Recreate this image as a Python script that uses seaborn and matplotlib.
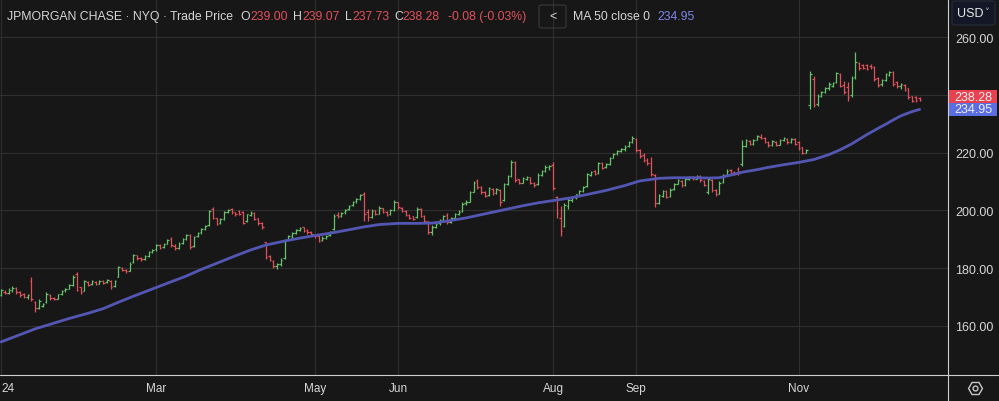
import matplotlib
matplotlib.use("Agg")
import matplotlib.pyplot as plt
import matplotlib.transforms as mtransforms
from matplotlib.lines import Line2D
from matplotlib.patches import Rectangle, FancyBboxPatch
import numpy as np
import pandas as pd
import seaborn as sns

# --- daily bars, 2 Jan 2024 .. mid Dec 2024 (trading-day index) ---
opens = [
    170.6, 171.9, 171.4, 172.4, 173.0, 171.8, 170.9, 170.0, 175.6, 168.4, 166.2, 167.0, 168.3, 170.8, 169.8, 169.4, 171.0, 172.3, 172.9, 174.2, 178.0,
    173.4, 172.2, 175.2, 174.4, 175.3, 174.7, 175.5, 175.1, 175.5, 173.8, 177.0, 180.2, 179.5, 179.2, 182.0, 184.4, 183.6, 183.2, 184.3, 185.6,
    186.5, 188.0, 187.2, 188.4, 190.2, 187.8, 187.0, 188.6, 190.0, 191.4, 187.6, 191.0, 192.4, 193.6, 194.8, 200.6, 197.2, 195.6, 197.0, 199.4,
    200.4, 199.3, 199.7, 199.5, 196.2, 198.5, 199.0, 197.2, 195.6, 189.0, 184.2, 182.6, 180.6, 181.3, 183.4, 189.8, 191.0, 192.3, 193.3, 194.1, 193.2, 192.6,
    191.6, 191.2, 189.6, 190.5, 191.4, 193.4, 198.4, 198.0, 199.3, 200.4, 201.7, 203.1, 204.0, 205.6, 199.4, 197.8, 200.0, 198.9, 200.7, 199.6, 198.6, 200.3,
    202.8, 201.0, 199.9, 198.5, 198.0, 197.6, 200.4, 198.0, 196.2, 192.6, 194.3, 195.5, 196.7, 198.3, 196.1, 197.3, 198.7, 199.8, 202.4,
    203.0, 206.5, 210.0, 208.2, 206.4, 205.3, 207.5, 206.0, 207.0, 203.6, 209.2, 212.0, 216.6, 210.8, 209.6, 210.8, 211.4, 209.5, 209.0, 212.4, 213.7, 215.0,
    215.8, 204.8, 197.4, 194.6, 201.6, 203.5, 204.5, 205.4, 206.7, 208.4, 212.4, 213.5, 212.8, 216.4, 214.9, 216.0, 218.3, 219.7, 220.5, 221.3, 222.2, 223.7,
    224.6, 220.9, 219.2, 217.6, 216.4, 212.2, 202.6, 205.0, 206.6, 205.0, 207.3, 209.3, 210.3, 208.8, 210.9, 211.5, 211.0, 211.8, 210.3, 206.2,
    210.4, 207.2, 205.8, 209.8, 212.3, 213.9, 213.2, 214.4, 216.0, 222.3, 224.0, 223.1, 224.5, 225.5, 225.0, 223.7, 222.6, 223.8, 222.8, 224.3, 224.8, 223.6, 224.6,
    223.6, 221.8, 220.0, 236.6, 245.6, 236.8, 239.6, 240.8, 242.3, 243.0, 244.4, 247.1, 243.4, 242.6, 239.8, 246.0, 251.0, 250.2, 250.4, 250.1,
    249.6, 245.8, 243.6, 245.0, 246.8, 247.9, 244.4, 242.9, 243.4, 242.2, 239.6, 239.3, 239.00,
]
highs = [
    172.8, 172.4, 173.0, 173.7, 173.4, 172.0, 171.3, 171.2, 177.0, 168.8, 169.4, 167.8, 171.6, 171.0, 170.1, 171.2, 172.6, 173.1, 174.6, 177.6, 178.7,
    173.6, 175.9, 175.6, 175.8, 175.5, 176.0, 175.9, 176.2, 175.8, 175.9, 180.9, 180.5, 179.8, 182.0, 185.0, 184.6, 184.0, 184.5, 186.0, 186.8,
    188.3, 188.2, 188.6, 190.0, 190.8, 188.2, 188.9, 190.4, 191.8, 191.8, 191.2, 192.6, 193.8, 194.9, 200.2, 201.3, 197.4, 197.3, 199.8, 200.6,
    200.8, 199.6, 200.1, 199.9, 198.9, 199.8, 199.3, 197.5, 195.9, 189.2, 184.4, 183.0, 181.9, 183.4, 190.2, 191.6, 192.6, 193.6, 194.3, 194.3, 193.5, 192.9,
    192.0, 191.5, 191.0, 191.6, 193.0, 198.8, 199.6, 199.5, 200.6, 202.0, 203.3, 204.2, 205.8, 206.4, 200.5, 200.4, 200.3, 201.4, 200.9, 199.8, 200.6, 203.5,
    203.0, 201.3, 200.1, 198.8, 198.2, 201.2, 200.7, 198.3, 196.4, 194.8, 195.8, 197.0, 198.4, 199.2, 197.6, 199.0, 200.0, 202.8, 203.6,
    206.8, 210.2, 210.9, 208.4, 206.6, 208.2, 207.8, 207.9, 207.4, 209.4, 212.2, 217.6, 217.1, 211.0, 211.6, 211.9, 211.7, 209.8, 212.8, 214.1, 215.6, 215.8,
    216.7, 205.0, 201.5, 202.4, 204.2, 205.0, 205.8, 207.0, 208.4, 213.0, 213.8, 213.9, 216.8, 216.9, 216.3, 218.6, 220.0, 220.8, 221.6, 222.5, 224.0, 225.7,
    224.9, 221.4, 220.0, 218.2, 218.6, 212.6, 205.6, 207.2, 207.0, 207.6, 209.6, 210.9, 210.6, 211.2, 212.0, 211.9, 212.3, 212.1, 210.6, 211.5,
    210.7, 207.5, 210.0, 212.6, 214.4, 214.3, 213.6, 215.0, 224.2, 224.7, 224.4, 224.8, 226.0, 226.4, 225.3, 224.0, 224.3, 224.1, 224.6, 225.3, 225.1, 225.2, 224.9,
    224.0, 222.0, 221.2, 248.2, 246.4, 240.2, 241.4, 242.6, 244.3, 244.6, 247.9, 247.4, 244.9, 244.4, 246.5, 254.7, 251.5, 250.7, 250.8, 250.5,
    249.8, 246.1, 245.6, 247.6, 248.2, 248.2, 244.9, 244.0, 243.6, 242.5, 239.7, 239.5, 239.07,
]
lows = [
    170.3, 170.9, 171.0, 171.6, 171.2, 170.2, 169.8, 169.5, 168.6, 165.0, 165.9, 166.4, 168.1, 169.1, 169.0, 169.2, 170.8, 171.9, 172.7, 174.0, 172.0,
    171.2, 172.0, 173.9, 174.2, 174.1, 174.5, 174.5, 174.9, 172.8, 173.6, 176.8, 178.9, 178.5, 178.9, 181.8, 183.0, 182.6, 182.9, 184.0, 185.2,
    186.1, 186.6, 186.9, 188.2, 187.3, 186.4, 186.8, 188.4, 189.8, 186.6, 187.4, 190.8, 192.0, 193.3, 194.6, 197.0, 194.8, 195.2, 196.8, 199.1,
    198.9, 198.2, 198.3, 195.3, 196.0, 198.2, 196.6, 195.0, 193.6, 183.2, 182.4, 180.2, 179.8, 180.9, 183.2, 189.6, 190.2, 192.0, 192.9, 192.6, 191.9, 191.3,
    190.6, 189.0, 189.3, 190.1, 191.1, 193.2, 197.5, 197.8, 198.9, 200.1, 201.4, 202.7, 203.6, 196.2, 196.5, 197.4, 198.4, 198.6, 199.1, 198.0, 198.3, 199.8,
    200.6, 199.4, 198.0, 197.1, 196.6, 197.4, 197.6, 195.8, 191.7, 191.5, 193.9, 195.1, 196.4, 195.4, 195.8, 197.0, 198.3, 199.5, 201.8,
    202.8, 206.2, 207.4, 205.8, 204.6, 205.0, 205.4, 205.7, 201.5, 203.3, 208.8, 211.6, 209.8, 209.0, 209.4, 210.4, 209.2, 208.2, 208.8, 212.0, 213.4, 214.0,
    207.0, 197.2, 191.1, 194.3, 200.4, 202.9, 204.0, 204.9, 206.3, 208.2, 212.0, 212.2, 212.5, 214.3, 214.5, 215.7, 218.0, 219.1, 220.1, 220.6, 221.9, 223.4,
    220.2, 218.2, 216.8, 215.7, 211.8, 201.3, 202.2, 204.6, 204.2, 204.8, 207.0, 209.0, 208.2, 208.5, 210.5, 210.4, 210.7, 209.9, 208.4, 205.8,
    206.4, 205.0, 205.6, 209.5, 212.0, 212.6, 212.1, 212.4, 215.2, 222.0, 222.6, 222.8, 224.2, 224.6, 223.4, 222.0, 222.2, 222.2, 222.5, 223.9, 223.0, 223.3, 222.6,
    221.0, 219.5, 219.7, 235.1, 235.8, 236.0, 239.2, 240.5, 241.8, 242.6, 244.1, 242.6, 240.3, 237.8, 239.4, 245.5, 248.6, 248.8, 248.7, 248.9,
    244.8, 242.7, 243.2, 244.8, 246.4, 243.2, 242.5, 241.9, 241.3, 238.5, 237.5, 237.6, 237.73,
]
closes = [
    172.3, 171.3, 172.6, 173.3, 171.6, 170.6, 170.1, 170.7, 169.3, 166.3, 168.8, 167.6, 171.2, 169.6, 169.3, 170.9, 172.2, 172.8, 174.3, 176.9, 172.6,
    171.9, 175.4, 174.3, 175.5, 174.6, 175.7, 175.0, 175.9, 173.4, 175.6, 180.4, 179.3, 178.9, 181.6, 184.6, 183.4, 183.1, 184.2, 185.7, 186.4,
    187.9, 187.1, 188.3, 189.6, 187.9, 186.9, 188.5, 190.1, 191.5, 187.3, 190.9, 192.3, 193.5, 194.6, 199.7, 197.5, 195.4, 196.9, 199.5, 200.3,
    199.4, 198.6, 198.7, 195.8, 198.6, 199.2, 197.0, 195.5, 194.2, 183.8, 182.8, 180.7, 181.4, 183.0, 189.6, 191.2, 192.2, 193.2, 194.0, 193.0, 192.4, 191.7,
    191.0, 189.5, 190.6, 191.3, 192.6, 198.2, 197.9, 199.2, 200.2, 201.6, 203.0, 203.8, 205.3, 198.7, 197.6, 199.9, 198.8, 200.9, 199.5, 198.5, 200.2, 203.0,
    201.1, 199.8, 198.4, 197.5, 197.0, 200.6, 198.1, 196.4, 192.4, 194.2, 195.4, 196.6, 198.0, 196.0, 197.2, 198.6, 199.6, 202.3, 202.9,
    206.4, 209.6, 208.0, 206.3, 205.1, 207.6, 205.9, 207.4, 203.0, 209.0, 211.8, 216.9, 210.6, 209.5, 211.2, 211.5, 209.6, 208.7, 212.3, 213.6, 215.1, 215.3,
    207.6, 199.0, 193.0, 201.8, 203.6, 204.6, 205.5, 206.6, 208.0, 212.5, 213.4, 212.7, 216.3, 214.8, 215.9, 218.2, 219.6, 220.4, 221.2, 222.1, 223.6, 225.2,
    220.8, 218.8, 217.4, 216.3, 212.6, 202.4, 205.2, 206.7, 204.8, 207.2, 209.2, 210.5, 208.7, 210.8, 211.6, 210.9, 211.9, 210.4, 208.9, 210.8,
    207.0, 205.6, 209.6, 212.2, 213.8, 213.1, 212.6, 212.9, 222.2, 224.2, 223.0, 224.4, 225.6, 225.1, 223.8, 222.5, 223.9, 222.7, 224.2, 224.9, 223.5, 224.8, 223.1,
    221.5, 219.9, 220.8, 247.3, 236.6, 239.7, 240.9, 242.2, 243.7, 244.1, 247.4, 243.1, 240.8, 239.4, 245.8, 251.2, 249.2, 249.3, 249.1, 249.6,
    245.4, 243.3, 245.1, 247.1, 247.8, 243.8, 243.0, 243.6, 241.7, 239.1, 238.0, 238.36, 238.28,
]

# 50-day moving average
ma_days = [0, 5, 9, 14, 18, 23, 27, 31, 35, 40, 44, 49, 53, 58, 62, 66, 70, 75, 79, 83,
           87, 92, 96, 100, 105, 110, 114, 118, 123, 128, 133, 138, 142, 146, 151, 155,
           160, 165, 169, 174, 178, 183, 187, 190, 193, 196, 200, 203, 207, 211, 215,
           219, 222, 225, 227, 229, 232, 234, 236, 238, 241, 243]
ma_values = [154.5, 157.0, 159.0, 161.0, 162.6, 164.4, 166.0, 168.2, 170.3, 172.8,
             174.8, 177.3, 179.6, 182.2, 184.3, 186.3, 188.0, 189.4, 190.4, 191.3,
             192.1, 193.3, 194.3, 195.1, 195.5, 195.5, 195.6, 196.3, 197.4, 198.8,
             200.2, 201.6, 202.6, 203.4, 204.4, 205.5, 206.9, 208.6, 210.2, 211.1,
             211.3, 211.3, 211.2, 211.3, 212.2, 213.2, 214.1, 214.9, 215.8, 216.6,
             217.6, 219.3, 221.0, 223.0, 224.6, 226.2, 228.4, 229.8, 231.3, 232.7,
             234.2, 234.95]

month_pos = [0, 41, 83, 105, 146, 168, 211]
month_labels = ["24", "Mar", "May", "Jun", "Aug", "Sep", "Nov"]
price_ticks = [160, 180, 200, 220, 240, 260]

last_close = 238.28
last_ma = 234.95

BG = "#171717"
GRID = "#2f2f2f"
GREEN = "#66c26a"
RED = "#e2505c"
MA_COLOR = "#5357b3"
TXT = "#d6d6d6"

sns.set_theme(style="darkgrid", rc={
    "axes.facecolor": BG, "figure.facecolor": BG, "grid.color": GRID,
    "grid.linewidth": 0.8, "axes.edgecolor": BG,
})
plt.rcParams["font.family"] = ["Liberation Sans", "DejaVu Sans"]

W, H = 999, 402
fig = plt.figure(figsize=(W / 100, H / 100), dpi=100)
ax = fig.add_axes([0, 26 / H, 948 / W, 376 / H])

df = pd.DataFrame({"open": opens, "high": highs, "low": lows, "close": closes})
assert len(df) == 244
df["x"] = np.arange(len(df))
bar_colors = np.where(df["close"] >= df["open"], GREEN, RED)

ax.vlines(df["x"], df["low"], df["high"], colors=bar_colors, lw=0.9, zorder=3)
ax.hlines(df["open"], df["x"] - 0.42, df["x"], colors=bar_colors, lw=0.9, zorder=3)
ax.hlines(df["close"], df["x"], df["x"] + 0.42, colors=bar_colors, lw=0.9, zorder=3)

ma = pd.DataFrame({"day": ma_days, "ma": ma_values})
sns.lineplot(data=ma, x="day", y="ma", ax=ax, color=MA_COLOR, lw=2.0, zorder=4)

ax.set_xlim(-0.3, 250.5)
ax.set_ylim(143.04, 273.15)
ax.set_xticks(month_pos)
ax.set_xticklabels(month_labels)
ax.get_xticklabels()[0].set_ha("left")
ax.set_yticks(price_ticks)
ax.set_yticklabels([f"{v:.2f}" for v in price_ticks])
ax.yaxis.tick_right()
ax.tick_params(axis="y", length=0, pad=5, labelsize=9, labelcolor=TXT)
ax.tick_params(axis="x", length=0, pad=5, labelsize=8.5, labelcolor=TXT)
ax.set_xlabel("")
ax.set_ylabel("")
for s in ax.spines.values():
    s.set_visible(False)

# border lines
fig.add_artist(Line2D([0, 1], [26 / H, 26 / H], transform=fig.transFigure, color="#cfcfcf", lw=0.8))
fig.add_artist(Line2D([948 / W, 948 / W], [0, 1], transform=fig.transFigure, color="#cfcfcf", lw=0.8))

# last value tags on the price scale
tag_tr = mtransforms.blended_transform_factory(fig.transFigure, ax.transData)
unit = (273.15 - 143.04) / 376
tag_h = 12.7 * unit
ax.add_patch(Rectangle((949 / W, last_ma - tag_h / 2), 48 / W, tag_h, transform=tag_tr,
                       fc="#5b6ee1", ec="none", clip_on=False, zorder=6))
ax.add_patch(Rectangle((949 / W, last_ma + tag_h / 2), 48 / W, tag_h, transform=tag_tr,
                       fc="#e8414f", ec="none", clip_on=False, zorder=6))
ax.text(973 / W, last_ma, f"{last_ma:.2f}", transform=tag_tr, ha="center", va="center",
        fontsize=9, color="#eef0ff", zorder=7, clip_on=False)
ax.text(973 / W, last_ma + tag_h, f"{last_close:.2f}", transform=tag_tr, ha="center", va="center",
        fontsize=9, color="#fff0f0", zorder=7, clip_on=False)

# header
def fx(px):
    return px / W

hy = 1 - 17 / H
fig.text(fx(7), hy, "JPMORGAN CHASE · NYQ · Trade Price", color=TXT, fontsize=8.8, va="center")
header = [(240, "O", TXT), (250, "239.00", RED), (293, "H", TXT), (302, "239.07", RED),
          (345, "L", TXT), (352, "237.73", RED), (394, "C", TXT), (402, "238.28", RED),
          (448, "-0.08 (-0.03%)", RED), (573, "MA 50 close 0", TXT), (657, f"{last_ma:.2f}", "#7d87ea")]
for px, s, c in header:
    fig.text(fx(px), hy, s, color=c, fontsize=8.8, va="center")

fig.add_artist(FancyBboxPatch((fx(539), 1 - 29 / H), 27 / W, 23 / H, boxstyle="round,pad=0,rounding_size=0.004",
                              transform=fig.transFigure, fc="none", ec="#3a3a3a", lw=0.8))
fig.text(fx(552.5), hy, "<", color=TXT, fontsize=9, ha="center", va="center")

fig.add_artist(FancyBboxPatch((fx(952), 1 - 26 / H), 43 / W, 24 / H, boxstyle="round,pad=0,rounding_size=0.004",
                              transform=fig.transFigure, fc="#141826", ec="#262b3a", lw=0.8))
fig.text(fx(957), 1 - 14 / H, "USD", color="#e6e6e6", fontsize=9, va="center")
fig.text(fx(987), 1 - 13 / H, "˅", color="#bbbbbb", fontsize=7, ha="center", va="center",
         family=["DejaVu Sans"])

# settings icon
fig.add_artist(Line2D([fx(975)], [1 - 389 / H], transform=fig.transFigure, marker="H", markersize=10,
                      mfc="none", mec="#c8c8c8", mew=1.0))
fig.add_artist(Line2D([fx(975)], [1 - 389 / H], transform=fig.transFigure, marker="o", markersize=3.5,
                      mfc="none", mec="#c8c8c8", mew=1.0))

fig.savefig("out.png", dpi=100, facecolor=BG)
